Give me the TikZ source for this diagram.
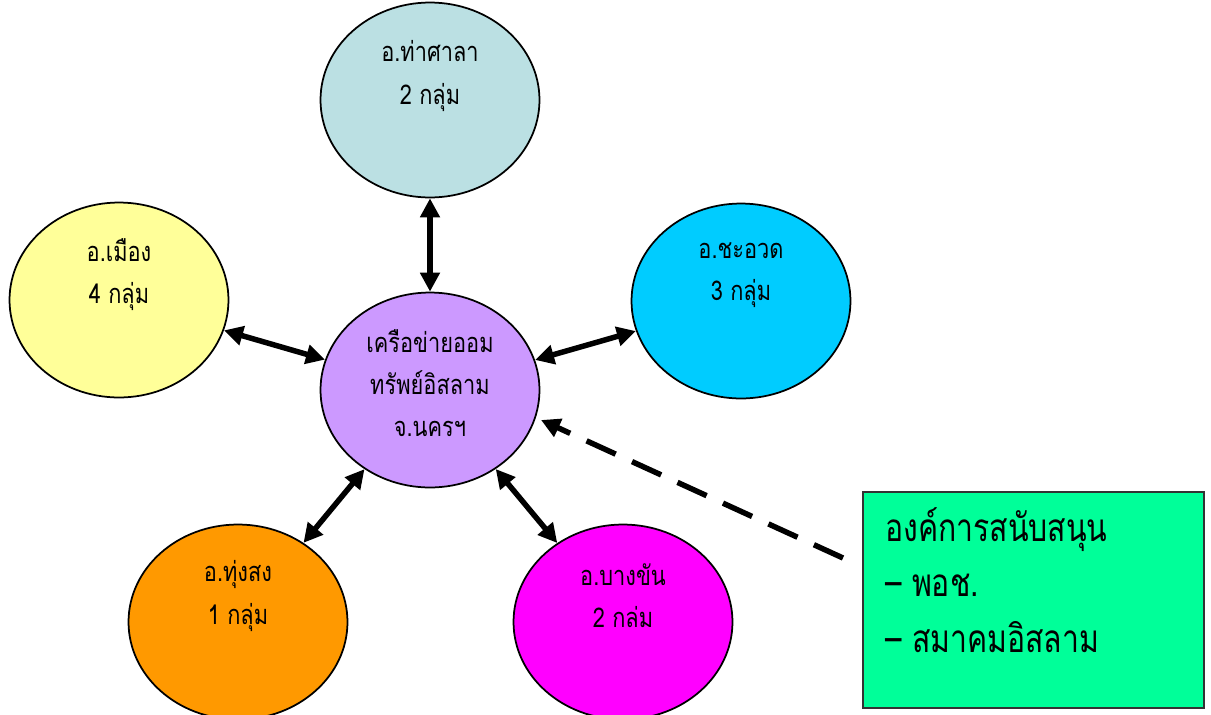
\documentclass[tikz,border=0pt]{standalone}
\usepackage{fontspec}
\newfontfamily\thai[Script=Thai,FakeStretch=0.8]{Loma}
\newfontfamily\thaibox[Script=Thai,FakeStretch=0.78]{Loma}
\usetikzlibrary{shapes.geometric,arrows.meta}
\definecolor{cTop}{HTML}{BBE0E3}
\definecolor{cLeft}{HTML}{FFFF99}
\definecolor{cRight}{HTML}{00CCFF}
\definecolor{cCenter}{HTML}{CC99FF}
\definecolor{cBL}{HTML}{FF9900}
\definecolor{cBR}{HTML}{FF00FF}
\definecolor{cBox}{HTML}{00FF99}
\tikzset{
  blob/.style={ellipse, draw=black, line width=0.035cm, minimum width=4.38cm, minimum height=3.9cm, inner sep=0pt},
  lbl/.style={align=center, font=\thai\fontsize{15.5}{24}\selectfont, inner sep=0pt},
  dbl/.style={line width=0.11cm, {Triangle[length=0.38cm,width=0.38cm]}-{Triangle[length=0.38cm,width=0.38cm]}},
  dsh/.style={line width=0.11cm, dash pattern=on 0.64cm off 0.36cm, -{Triangle[length=0.38cm,width=0.38cm]}},
  boxst/.style={draw=black!80, line width=0.04cm, fill=cBox, minimum width=6.82cm, minimum height=4.32cm, inner sep=0pt},
  boxtxt/.style={align=left, font=\thaibox\fontsize{22}{31.5}\selectfont, inner sep=0pt, anchor=west}
}
\begin{document}
\begin{tikzpicture}[x=0.02cm,y=-0.02cm]
\useasboundingbox (0,0) rectangle (1211,714);
\clip (0,0) rectangle (1211,714);
\node[blob, fill=cTop] (top) at (430,100) {};
\node[blob, fill=cLeft] (left) at (119,300) {};
\node[blob, fill=cRight] (right) at (741,301) {};
\node[blob, fill=cCenter] (center) at (430,390) {};
\node[blob, fill=cBL] (bl) at (238,622) {};
\node[blob, fill=cBR] (br) at (623,622) {};
\node[boxst, anchor=north west] (box) at (862,491) {};

\node[lbl] (toptxt) at (430,76) {อ.ท่าศาลา\\2 กลุ่ม};
\node[lbl] (lefttxt) at (119,275) {อ.เมือง\\4 กลุ่ม};
\node[lbl] (righttxt) at (741,275) {อ.ชะอวด\\3 กลุ่ม};
\node[lbl] (centertxt) at (430,383) {เครือข่ายออม\\ทรัพย์อิสลาม\\จ.นครฯ};
\node[lbl] (bltxt) at (238,596) {อ.ทุ่งสง\\1 กลุ่ม};
\node[lbl] (brtxt) at (623,596) {อ.บางขัน\\2 กล่ม};
\node[boxtxt] (boxtext) at (885,580) {องค์การสนับสนุน\\– พอช.\\– สมาคมอิสลาม};

\draw[dbl] (top) -- (center);
\draw[dbl] (left) -- (center);
\draw[dbl] (right) -- (center);
\draw[dbl] (bl) -- (center);
\draw[dbl] (br) -- (center);
\coordinate (dstart) at (843,558);
\coordinate (dend) at (541,420);
\draw[dsh] (dstart) -- (dend);
\end{tikzpicture}
\end{document}
